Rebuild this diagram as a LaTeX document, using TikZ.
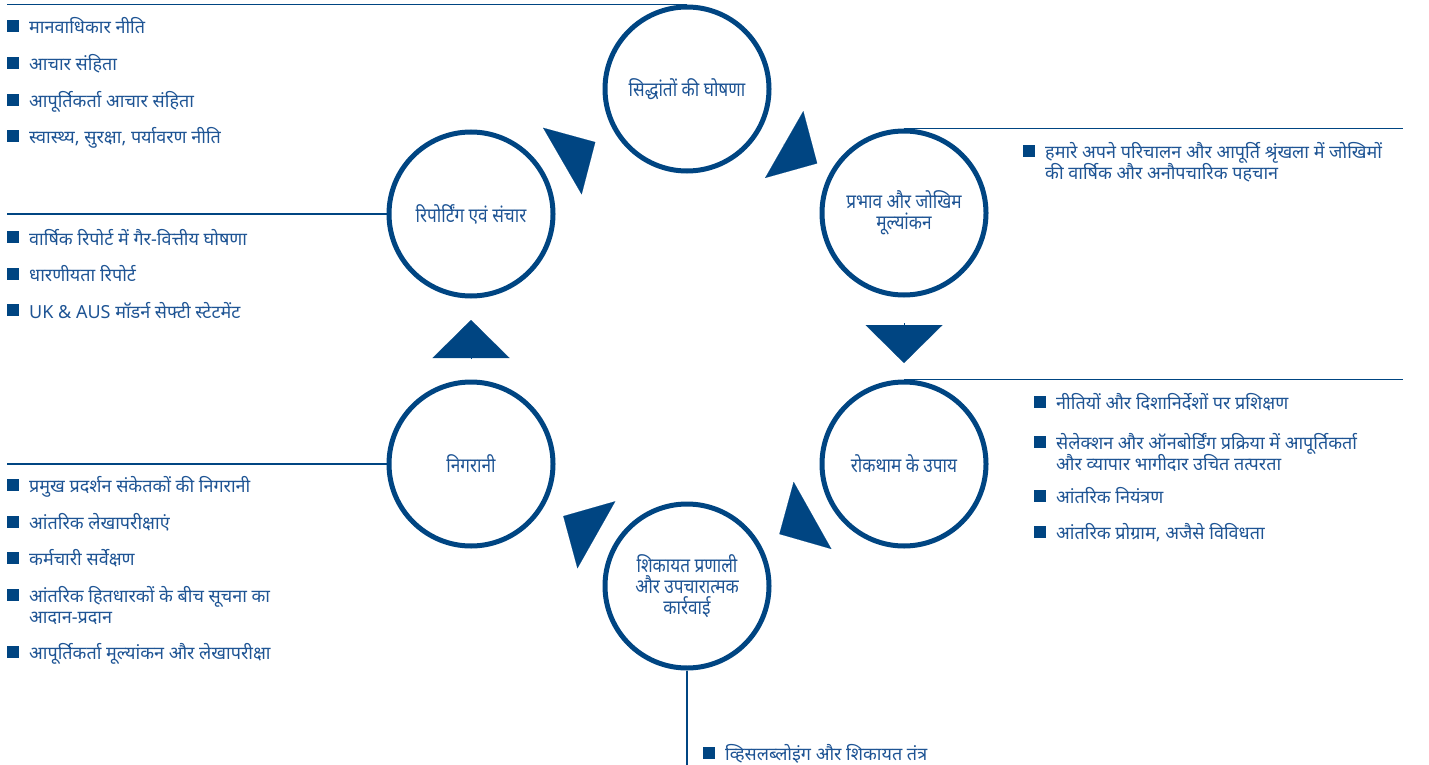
\documentclass[tikz,border=0pt]{standalone}
\usepackage{fontspec}
\newfontfamily\hindifont[Script=Devanagari]{Noto Sans}
\newfontfamily\hindinarrow[Script=Devanagari,FakeStretch=0.86]{Noto Sans}
\usepackage{tikz}
\usetikzlibrary{arrows.meta,positioning,calc}
\definecolor{mainblue}{RGB}{0,69,130}
\definecolor{textblue}{RGB}{30,84,148}
\newcommand{\circfont}{\hindinarrow\fontsize{20}{21}\selectfont\lineskiplimit=-100pt\relax}
\newcommand{\twoline}[2]{\vtop{\lineskiplimit=-100pt\relax\hbox{#1}\hbox{#2}}}

\begin{document}
\begin{tikzpicture}[
        x=1pt, y=-1pt,
        circsty/.style={
            circle, draw=mainblue, line width=5pt, minimum size=164pt,
            inner sep=0pt, align=center, text=textblue,
            font=\circfont,
        },
        itemsty/.style={
            anchor=base west, inner sep=0pt, text=textblue,
            font=\hindifont\fontsize{18}{21}\selectfont,
        },
        bulsty/.style={
            fill=mainblue, minimum size=12pt, inner sep=0pt, anchor=south east,
        },
        leadsty/.style={
            mainblue, line width=1.2pt
        },
        cyclesty/.style={
            mainblue, line width=0.1pt, -{Triangle[length=38pt,width=77pt]},
            shorten <=105pt, shorten >=106pt
        }
    ]
    \useasboundingbox (0,0) rectangle (1429,765);

    \node[circsty] at (687,89) (sid) {सिद्धांतों की घोषणा};
    \node[circsty] at (904,213) (pra) {प्रभाव और जोखिम\\मूल्यांकन};
    \node[circsty] at (904,464) (rok) {रोकथाम के उपाय};
    \node[circsty] at (687,586) (shi) {शिकायत प्रणाली\\और उपचारात्मक\\कार्रवाई};
    \node[circsty] at (471,464) (nig) {निगरानी};
    \node[circsty] at (471,214) (rep) {रिपोर्टिंग एवं संचार};

    \draw[cyclesty] (rep.center) -- (sid.center);
    \draw[cyclesty, shorten <=111pt, shorten >=100pt] (sid.center) -- (pra.center);
    \draw[cyclesty, shorten <=110pt, shorten >=101pt] (pra.center) -- (rok.center);
    \draw[cyclesty] (rok.center) -- (shi.center);
    \draw[cyclesty] (shi.center) -- (nig.center);
    \draw[cyclesty] (nig.center) -- (rep.center);

    \coordinate (lm) at (7,0);
    \coordinate (rm) at (1403,0);
    \coordinate (bm) at (0,765);
    \draw[leadsty] (sid.north) -- (sid.north -| lm);
    \draw[leadsty] (rep.west) -- (rep.west -| lm);
    \draw[leadsty] (nig.west) -- (nig.west -| lm);
    \draw[leadsty] (pra.north) -- (pra.north -| rm);
    \draw[leadsty] (rok.north) -- (rok.north -| rm);
    \draw[leadsty] (shi.south) -- (shi.south |- bm);

    \foreach \y/\t [count=\i] in {33.5/मानवाधिकार नीति, 70.5/आचार संहिता,
        107.5/आपूर्तिकर्ता आचार संहिता, 143.5/{स्वास्थ्य, सुरक्षा, पर्यावरण नीति}}{
        \node[itemsty] at (29,\y) (sidit\i) {\t};
        \node[bulsty] at ([xshift=-10pt,yshift=1.5pt]sidit\i.base west) (sidbul\i) {};
    }
    \foreach \y/\t [count=\i] in {245/वार्षिक रिपोर्ट में गैर-वित्तीय घोषणा,
        281.5/धारणीयता रिपोर्ट, 318/UK \& AUS मॉडर्न सेफ्टी स्टेटमेंट}{
        \node[itemsty] at (29,\y) (repit\i) {\t};
        \node[bulsty] at ([xshift=-10pt,yshift=1.5pt]repit\i.base west) (repbul\i) {};
    }
    \foreach \y/\t [count=\i] in {492.5/प्रमुख प्रदर्शन संकेतकों की निगरानी,
        529.5/आंतरिक लेखापरीक्षाएं, 565.5/कर्मचारी सर्वेक्षण,
        602.5/\twoline{आंतरिक हितधारकों के बीच सूचना का}{आदान-प्रदान},
        659.5/आपूर्तिकर्ता मूल्यांकन और लेखापरीक्षा}{
        \node[itemsty] at (29,\y) (nigit\i) {\t};
        \node[bulsty] at ([xshift=-10pt,yshift=1.5pt]nigit\i.base west) (nigbul\i) {};
    }
    \foreach \y/\t [count=\i] in {409.5/नीतियों और दिशानिर्देशों पर प्रशिक्षण,
        449.5/\twoline{सेलेक्शन और ऑनबोर्डिंग प्रक्रिया में आपूर्तिकर्ता}{और व्यापार भागीदार उचित तत्परता},
        503.5/आंतरिक नियंत्रण, 539.5/{आंतरिक प्रोग्राम, अजैसे विविधता}}{
        \node[itemsty] at (1056,\y) (rokit\i) {\t};
        \node[bulsty] at ([xshift=-10pt,yshift=1.5pt]rokit\i.base west) (rokbul\i) {};
    }
    \node[itemsty] at (1045,158.5) (prait1)
        {\twoline{हमारे अपने परिचालन और आपूर्ति श्रृंखला में जोखिमों}{की वार्षिक और अनौपचारिक पहचान}};
    \node[bulsty] at ([xshift=-10pt,yshift=1.5pt]prait1.base west) (prabul1) {};
    \node[itemsty] at (725,760.5) (shiit1) {व्हिसलब्लोइंग और शिकायत तंत्र};
    \node[bulsty] at ([xshift=-10pt,yshift=1.5pt]shiit1.base west) (shibul1) {};
\end{tikzpicture}
\end{document}
